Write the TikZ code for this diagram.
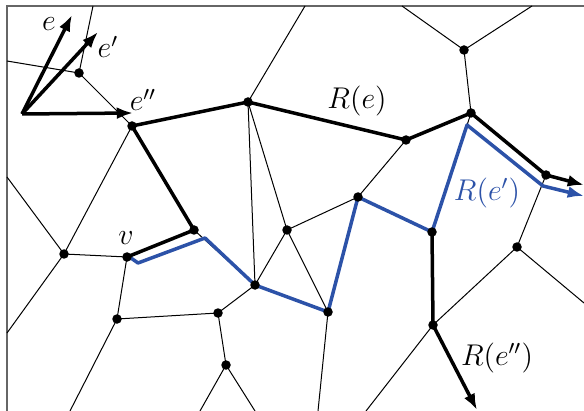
\documentclass[tikz,border=0pt]{standalone}
\usepackage{amsmath,amssymb}
\usetikzlibrary{arrows.meta}
\definecolor{pathblue}{RGB}{44,82,168}

\begin{document}
\begin{tikzpicture}[
  x=0.4pt, y=-0.4pt,
  edge/.style={black, line width=0.4pt},
  route/.style={black, line width=1.4pt, line join=round},
  broute/.style={pathblue, line width=1.4pt, line join=round},
  arr/.style={-{Latex[length=6.5pt,width=4.8pt]}},
  lbl/.style={inner sep=0pt, font=\large}
]
\useasboundingbox (0,0) rectangle (584,411);
% --- frame ---
\draw[black!60, line width=0.6pt] (7,411) -- (7,6) -- (584,6);
% --- vertices ---
\coordinate (A) at (79,73);   \coordinate (B) at (132,126);
\coordinate (C) at (248,102); \coordinate (D) at (194,230);
\coordinate (E) at (64,254);  \coordinate (v) at (127,257);
\coordinate (F) at (117,319); \coordinate (H) at (255,285);
\coordinate (I) at (287,230); \coordinate (J) at (358,197);
\coordinate (K) at (328,312); \coordinate (L) at (218,313);
\coordinate (M) at (226,365); \coordinate (G) at (406,140);
\coordinate (N) at (471,113); \coordinate (P) at (464,50);
\coordinate (Q) at (546,175); \coordinate (R) at (517,247);
\coordinate (T) at (432,232); \coordinate (S) at (433,325);
% --- ends on the frame ---
\coordinate (tA) at (93,6);   \coordinate (lA) at (7,61);
\coordinate (lE) at (7,177);  \coordinate (lE2) at (7,333);
\coordinate (tC) at (305,6);  \coordinate (tP) at (402,6);
\coordinate (tP2) at (532,6); \coordinate (rR) at (584,303);
\coordinate (bK) at (318,411); \coordinate (bM) at (200,411);
\coordinate (bM2) at (255,411); \coordinate (bF) at (70,411);
\coordinate (bS) at (366,411);
% --- thin edges ---
\foreach \a/\b in {A/tA,A/lA,A/B,B/E,E/lE,E/v,E/lE2,v/F,C/tC,C/H,C/I,
  I/J,I/H,I/K,J/G,H/L,K/bK,L/F,L/M,M/bM,M/bM2,F/bF,N/P,P/tP,P/tP2,
  Q/R,R/S,R/rR,S/bS,T/N,D/H,H/K,K/J,J/T}
  \draw[edge] (\a) -- (\b);
% --- R(e') ---
\coordinate (b1) at (131,258); \coordinate (b2) at (138,263);
\coordinate (b3) at (205,238); \coordinate (b4) at (467,125);
\coordinate (b5) at (543,186); \coordinate (bend) at (584,196);
\draw[broute, arr] (b1) -- (b2) -- (b3) -- (H) -- (K) -- (J) -- (T) -- (b4) -- (b5) -- (bend);
% --- R(e) and R(e'') ---
\coordinate (rend) at (584,185);
\coordinate (send) at (477,410);
\draw[route, arr] (v) -- (D) -- (B) -- (C) -- (G) -- (N) -- (Q) -- (rend);
\draw[route, arr] (T) -- (S) -- (send);
% --- dots ---
\foreach \p in {A,B,C,D,E,v,F,H,I,J,K,L,M,G,N,P,Q,R,T,S}
  \fill (\p) circle[radius=1.9pt];
% --- directions ---
\coordinate (O) at (22,114);
\coordinate (de) at (72,15);
\coordinate (de1) at (98,32);
\coordinate (de2) at (133,113);
\foreach \d in {de,de1,de2}
  \draw[route, arr] (O) -- (\d);
% --- labels ---
\node[lbl] (le) at (49,24) {$e$};
\node[lbl] (le1) at (108,47) {$e'$};
\node[lbl] (le2) at (143,100) {$e''$};
\node[lbl] (lv) at (126,238) {$v$};
\node[lbl] (lRe) at (357,101) {$R(e)$};
\node[lbl, text=pathblue] (lRe1) at (487,193) {$R(e')$};
\node[lbl] (lRe2) at (497,358) {$R(e'')$};
\end{tikzpicture}
\end{document}
